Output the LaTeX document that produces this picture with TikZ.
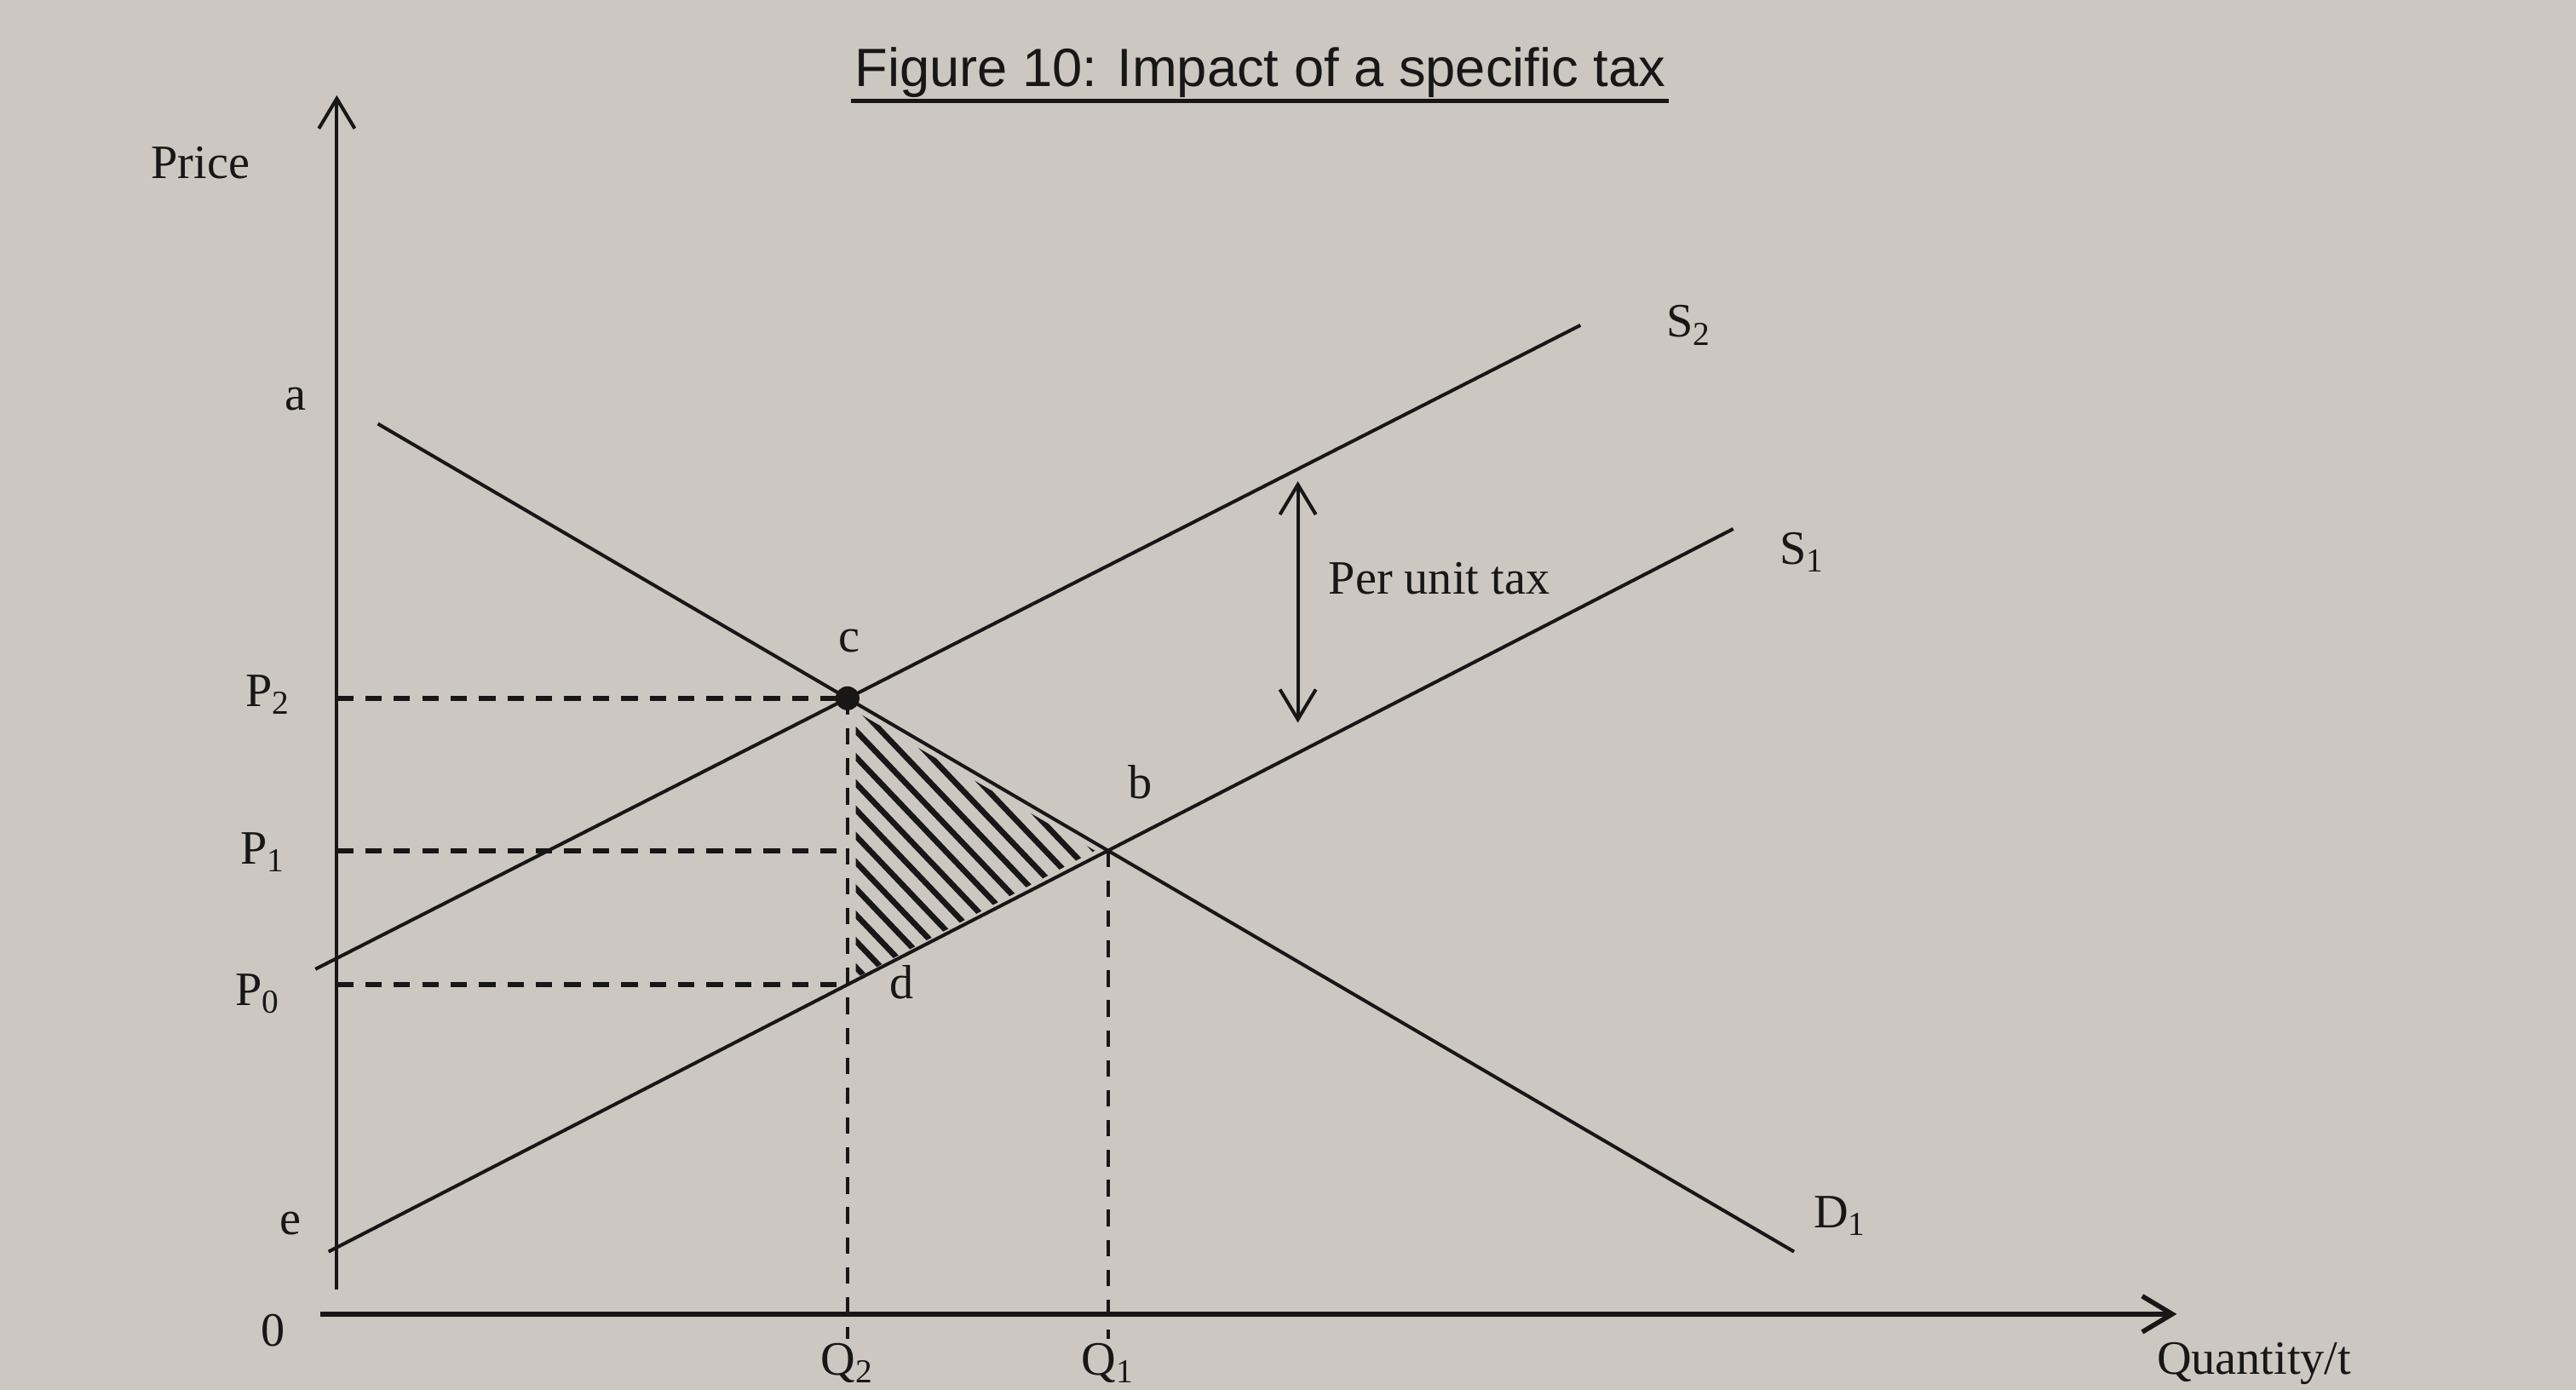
\documentclass[tikz,border=0pt]{standalone}
\usepackage{fontspec}
\setmainfont{Liberation Serif}
\newfontfamily\titlefont{Liberation Sans}
\usetikzlibrary{arrows.meta,calc}
\definecolor{paper}{RGB}{204,200,193}
\definecolor{ink}{RGB}{24,22,22}

\begin{document}
\begin{tikzpicture}[x=0.19286mm,y=-0.19286mm,>={Straight Barb[length=10pt,width=12pt]},
		curve/.style={ink,line width=1.15pt},
		guide/.style={ink,line width=1.6pt,dash pattern=on 5.5pt off 4pt},
		drop/.style={ink,line width=1.1pt,dash pattern=on 5.5pt off 4.5pt},
		hatch/.style={ink,line width=1.9pt},
		lbl/.style={ink,font=\fontsize{16}{18}\selectfont,inner sep=1pt}]
		
		%----------------------------------------
		% Page
		%----------------------------------------
		\useasboundingbox (0,0) rectangle (1568,846);
		\fill[paper] (0,0) rectangle (1568,846);
		
		%----------------------------------------
		% Curve end points
		%----------------------------------------
		\coordinate (O) at (205,800);
		\coordinate (Da) at (230,258);
		\coordinate (Db) at (1092,762);
		\coordinate (S2a) at (192,590);
		\coordinate (S2b) at (962,198);
		\coordinate (S1a) at (200,762);
		\coordinate (S1b) at (1055,322);
		
		%----------------------------------------
		% Equilibria
		%----------------------------------------
		\coordinate (c) at (intersection of Da--Db and S2a--S2b);
		\coordinate (b) at (intersection of Da--Db and S1a--S1b);
		\coordinate (cbot) at (c |- O);
		\coordinate (d) at (intersection of S1a--S1b and c--cbot);
		\coordinate (Qend) at (0,815);
		
		%----------------------------------------
		% Deadweight loss triangle
		%----------------------------------------
		\begin{scope}
			\clip ($(c)+(5,8)$) -- ($(b)+(-8,0)$) -- ($(d)+(5,-4)$) -- cycle;
			\foreach \k in {0,...,17}
			\draw[hatch] ($(d)+(0,-\k*16)$) -- ++(260,273);
		\end{scope}
		
		%----------------------------------------
		% Axes
		%----------------------------------------
		\draw[->,curve] (205,785) -- (205,58);
		\draw[->,ink,line width=1.6pt] (195,800) -- (1325,800);
		
		%----------------------------------------
		% Demand and supply
		%----------------------------------------
		\draw[curve] (Da) -- (Db);
		\draw[curve] (S2a) -- (S2b);
		\draw[curve] (S1a) -- (S1b);
		
		%----------------------------------------
		% Price and quantity guides
		%----------------------------------------
		\draw[guide] (c -| O) -- (c);
		\draw[guide] (b -| O) -- (b -| c);
		\draw[guide] (d -| O) -- (d);
		\draw[drop] (c) -- (c |- Qend);
		\draw[drop] (b) -- (b |- Qend);
		
		\fill[ink] (c) circle (4pt);
		
		%----------------------------------------
		% Per unit tax
		%----------------------------------------
		\draw[<->,curve] (790,293) -- (790,440);
		\node[lbl] (tax) at (876,352) {Per unit tax};
		
		%----------------------------------------
		% Labels
		%----------------------------------------
		\node[ink,font=\titlefont\fontsize{18}{20}\selectfont,inner sep=1pt] (title) at (767,44)
		{Figure 10: Impact of a specific tax};
		\draw[ink,line width=1.3pt] (title.south west) -- (title.south east);
		
		\node[lbl] (price) at (122,99) {Price};
		\node[lbl] (a) at (180,243) {a};
		\node[lbl] (P2) at (163,423) {P\textsubscript{2}};
		\node[lbl] (P1) at (160,519) {P\textsubscript{1}};
		\node[lbl] (P0) at (157,605) {P\textsubscript{0}};
		\node[lbl] (e) at (177,745) {e};
		\node[lbl] (zero) at (166,810) {0};
		\node[lbl] (clab) at (517,390) {c};
		\node[lbl] (blab) at (694,476) {b};
		\node[lbl] (dlab) at (549,598) {d};
		\node[lbl] (Q2) at (c |- 0,830) {Q\textsubscript{2}};
		\node[lbl] (Q1) at (b |- 0,830) {Q\textsubscript{1}};
		\node[lbl] (S2) at (1028,198) {S\textsubscript{2}};
		\node[lbl] (S1) at (1097,336) {S\textsubscript{1}};
		\node[lbl] (D1) at (1120,740) {D\textsubscript{1}};
		\node[lbl,anchor=south] (qty) at (1372,845) {Quantity/t};
		
	\end{tikzpicture}
\end{document}
